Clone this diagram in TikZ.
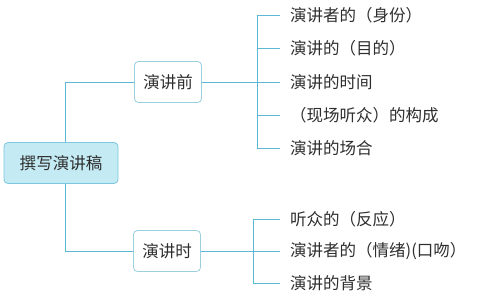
\documentclass[tikz,border=0pt]{standalone}
\usepackage{fontspec}
\setmainfont{Noto Sans CJK SC}
\usepackage{tikz}

\definecolor{linecyan}{HTML}{5DB8D6}
\definecolor{rootfill}{HTML}{C4EBF4}
\definecolor{boxline}{HTML}{9CCFDF}
\definecolor{txt}{HTML}{2E2E2E}

\tikzset{
  rootbox/.style={draw=linecyan!80, fill=rootfill, rounded corners=4pt, line width=0.8pt,
    minimum width=114pt, minimum height=41pt, font=\fontsize{16.5}{16.5}\selectfont, text=txt},
  phasebox/.style={draw=boxline, fill=white, rounded corners=4pt, line width=0.8pt,
    minimum width=67pt, minimum height=41pt, font=\fontsize{16.5}{16.5}\selectfont, text=txt},
  leaf/.style={anchor=west, inner xsep=10pt, font=\fontsize{16.5}{16.5}\selectfont, text=txt},
  wire/.style={linecyan, line width=0.8pt}
}

\begin{document}
\begin{tikzpicture}[x=1pt, y=-1pt]
    \useasboundingbox (0,0) rectangle (489,298);
    % Centre i les dues fases
    \node[rootbox] (root) at (61,163) {撰写演讲稿};
    \node[phasebox] (pre) at (168,82) {演讲前};
    \node[phasebox] (dur) at (167,251) {演讲时};
    \coordinate (fork) at (65,163);
    \draw[wire] (fork |- root.north) |- (pre.west);
    \draw[wire] (fork |- root.south) |- (dur.west);

    % Abans del discurs
    \node[leaf] (a1) at (280,15) {演讲者的（身份）};
    \node[leaf] (a2) at (280,48) {演讲的（目的）};
    \node[leaf] (a3) at (280,82) {演讲的时间};
    \node[leaf] (a4) at (280,115) {（现场听众）的构成};
    \node[leaf] (a5) at (280,148) {演讲的场合};
    \coordinate (b1) at (257,82);
    \draw[wire] (pre.east) -- (b1);
    \draw[wire] (b1 |- a1.west) -- (b1 |- a5.west);
    \foreach \n in {a1,a2,a3,a4,a5}
        \draw[wire] (b1 |- \n.west) -- (\n.west);

    % Durant el discurs
    \node[leaf] (c1) at (280,219) {听众的（反应）};
    \node[leaf] (c2) at (280,251) {演讲者的（情绪)(口吻）};
    \node[leaf] (c3) at (280,283) {演讲的背景};
    \coordinate (b2) at (253,251);
    \draw[wire] (dur.east) -- (b2);
    \draw[wire] (b2 |- c1.west) -- (b2 |- c3.west);
    \foreach \n in {c1,c2,c3}
        \draw[wire] (b2 |- \n.west) -- (\n.west);
\end{tikzpicture}
\end{document}
